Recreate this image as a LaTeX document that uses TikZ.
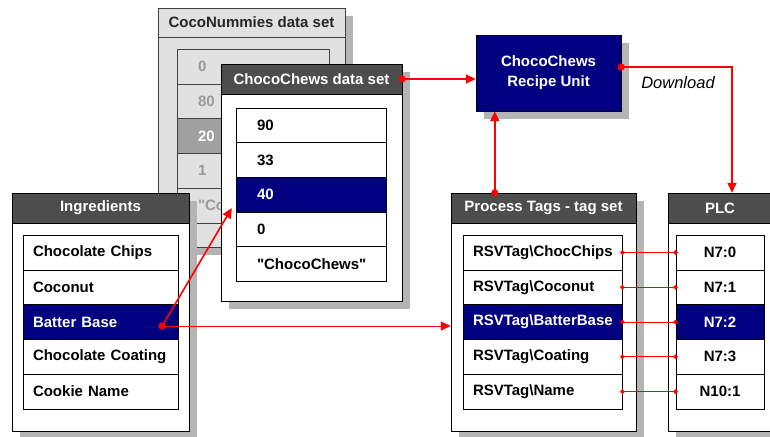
\documentclass[tikz,border=0pt]{standalone}
\usepackage{fontspec}
\setmainfont{Liberation Sans}
\usetikzlibrary{arrows.meta,shadows}
\definecolor{navy}{HTML}{000080}
\definecolor{bargray}{HTML}{4D4D4D}
\definecolor{shadegray}{HTML}{B4B4B4}
\definecolor{fadegray}{HTML}{E1E1E1}
\definecolor{fadedark}{HTML}{A0A0A0}
\definecolor{fadetext}{HTML}{9A9A9A}

\begin{document}
\begin{tikzpicture}[x=1pt,y=-1pt,
    every node/.style={font=\fontsize{15}{18}\selectfont\bfseries, inner sep=0pt},
    panel/.style={draw, fill=white, drop shadow={shadow xshift=8pt,shadow yshift=-8pt,fill=shadegray,opacity=1}},
    titlebar/.style={draw, fill=bargray, text=white, minimum height=30pt},
    item/.style={draw, fill=white, minimum height=34.8pt, align=left},
    picked/.style={item, fill=navy, text=white},
    fadeitem/.style={item, draw=black!75, fill=fadegray, text=fadetext},
    fadepicked/.style={fadeitem, fill=fadedark, text=white},
    wire/.style={red, line width=1.6pt, shorten <=-3.5pt, {Circle[length=7pt]}-{Triangle[length=10pt,width=9pt]}},
    link/.style={red, line width=1pt, shorten <=-2pt, shorten >=-2pt, {Circle[length=4.5pt]}-{Circle[length=4.5pt]}}]
    \useasboundingbox (0,0) rectangle (770,436);

    \node[panel, draw=black!75, fill=fadegray, minimum width=187pt, minimum height=239pt] (coco) at (251.5,127.5) {};
    \node[titlebar, draw=black!75, fill=fadegray, text=black!85, minimum width=187pt, minimum height=29pt] (cocoT) at (251.5,22.5) {CocoNummies data set};
    \foreach \i/\y/\t/\s in {1/66.4/0/fadeitem, 2/101.2/80/fadeitem, 3/136/20/fadepicked, 4/170.8/1/fadeitem, 5/205.6/\textquotedbl Coc/fadeitem}
        \node[\s, text width=110pt, inner xsep=21pt] (coco\i) at (253,\y) {\t};
    \node[fadeitem, minimum width=152pt, minimum height=24pt] (coco6) at (253,235) {};
    \draw[fadegray, line width=1.2pt] ([xshift=1pt]coco1.north west) -- ([xshift=-1pt]coco1.north east);

    \node[panel, minimum width=181pt, minimum height=237pt] (cc) at (311.5,182.5) {};
    \node[titlebar, minimum width=181pt] (ccT) at (311.5,79) {ChocoChews data set};
    \foreach \i/\y/\t/\s in {1/125.3/90/item, 2/159.9/33/item, 3/194.5/40/picked, 4/229.1/0/item, 5/263.7/\textquotedbl ChocoChews\textquotedbl/item}
        \node[\s, text width=108pt, inner xsep=21pt, minimum height=34.6pt] (cc\i) at (311,\y) {\t};

    \node[panel, minimum width=177pt, minimum height=238pt] (ing) at (100.5,312) {};
    \node[titlebar, minimum width=177pt] (ingT) at (100.5,208) {Ingredients};
    \foreach \i/\y/\t/\s in {1/252.4/Chocolate Chips/item, 2/287.2/Coconut/item, 3/322/Batter Base/picked, 4/356.8/Chocolate Coating/item, 5/391.6/Cookie Name/item}
        \node[\s, text width=135pt, inner xsep=10pt] (ing\i) at (100.5,\y) {\t};

    \node[panel, minimum width=185pt, minimum height=238pt] (tags) at (543.5,312) {};
    \node[titlebar, minimum width=185pt] (tagsT) at (543.5,208) {Process Tags - tag set};
    \foreach \i/\y/\t/\s in {1/252.4/ChocChips/item, 2/287.2/Coconut/item, 3/322/BatterBase/picked, 4/356.8/Coating/item, 5/391.6/Name/item}
        \node[\s, text width=139pt, inner xsep=10pt] (tag\i) at (542.5,\y) {RSVTag\textbackslash\t};

    \node[panel, minimum width=104pt, minimum height=238pt] (plc) at (720,312) {};
    \node[titlebar, minimum width=104pt] (plcT) at (720,208) {PLC};
    \foreach \i/\y/\t/\s in {1/252.4/N7:0/item, 2/287.2/N7:1/item, 3/322/N7:2/picked, 4/356.8/N7:3/item, 5/391.6/N10:1/item}
        \node[\s, minimum width=88pt, align=center] (plc\i) at (720,\y) {\t};

    \node[panel, fill=navy, text=white, minimum width=145pt, minimum height=76pt, align=center,
        font=\fontsize{15}{20}\selectfont\bfseries] (unit) at (548.5,73) {ChocoChews\\Recipe Unit};
    \node[font=\fontsize{16.5}{18}\selectfont\itshape] (dl) at (678,83) {Download};

    \coordinate (bb) at ([xshift=-16pt,yshift=-4pt]ing3.east);
    \coordinate (cctip) at ([xshift=-4pt,yshift=4pt]cc3.south west);
    \coordinate (tp) at ([xshift=44pt]tagsT.north west);
    \coordinate (ue) at ([yshift=6pt]unit.east);
    \coordinate (pp) at ([xshift=12pt]plcT.north);
    \draw[wire] (bb) -- (cctip);
    \draw[wire, line width=1pt] (bb) -- (bb -| tags.west);
    \draw[wire] (ccT.east) -- (ccT.east -| unit.west);
    \draw[wire] (tp) -- (tp |- unit.south);
    \draw[wire] (ue) -| (pp);
    \foreach \i in {1,...,5}
        \draw[link] (tag\i.east) -- (plc\i.west);
\end{tikzpicture}
\end{document}
